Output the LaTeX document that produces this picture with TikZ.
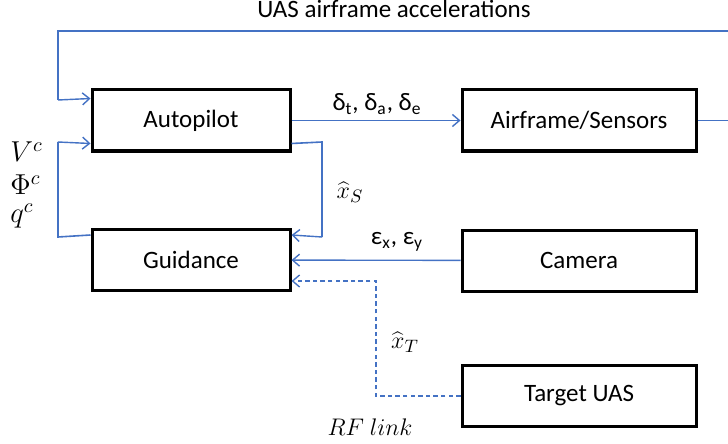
\documentclass[tikz,border=0pt]{standalone}
\usepackage{fontspec}
\setmainfont{Carlito}
\usetikzlibrary{calc}
\usetikzlibrary{arrows.meta}
\definecolor{linkblue}{RGB}{68,114,196}
\tikzset{
  block/.style = {draw=black, line width=1.5pt, minimum height=30.5pt, font=\fontsize{12.5}{15}\selectfont},
  sig/.style = {color=#1, line width=0.8pt},
  sigVec/.style = {color=#1, line width=0.7pt, -{Straight Barb[length=3.5pt,width=6pt]}},
  rfVec/.style = {color=#1, line width=0.7pt, dash pattern=on 2.2pt off 1.6pt, -{Straight Barb[length=3.5pt,width=6pt]}},
  lbl/.style = {font=\fontsize{12.5}{15}\selectfont, inner sep=0pt},
  cmd/.style = {font=\fontsize{14}{16}\selectfont, inner sep=0pt, anchor=west}
}

\begin{document}
\begin{tikzpicture}[x=0.5pt, y=-0.5pt]

    \useasboundingbox (0,0) rectangle (728,444);

    % Blocks
    \node[block, minimum width=99pt]  (auto) at (191,120.5) {Autopilot};
    \node[block, minimum width=117pt] (air)  at (579,120.5) {Airframe/Sensors};
    \node[block, minimum width=99pt]  (guid) at (191,260)   {Guidance};
    \node[block, minimum width=117pt] (cam)  at (579,260.5) {Camera};
    \node[block, minimum width=117pt] (tgt)  at (579,396)   {Target UAS};

    % Coordinates
    \coordinate (fbIn)  at (728,31);
    \coordinate (airOut) at (728,120.5);

    % Signals
    \draw[sig={linkblue}] (air.east) -- (airOut);
    \draw[sig={linkblue}] (fbIn) -- (58,31) -- (58,100);
    \draw[sigVec={linkblue}] (58,100) -- ($(auto.north west)+(0,10)$);
    \draw[sigVec={linkblue}] (auto) -- (air);
    \draw[sig={linkblue}] ($(guid.north west)+(0,7)$) -- (58,237) -- (58,142);
    \draw[sigVec={linkblue}] (58,142) -- ($(auto.south west)+(0,-9)$);
    \draw[sig={linkblue}] ($(auto.south east)+(0,-9)$) -- (322,142) -- (322,237);
    \draw[sigVec={linkblue}] (322,237) -- ($(guid.north east)+(0,7)$);
    \draw[sigVec={linkblue}] (cam) -- (guid);
    \draw[rfVec={linkblue}] (tgt.west) -- (376,396) |- ($(guid.south east)+(0,-11)$);

    % Labels
    \node[lbl, anchor=base] (accel) at (394,18) {UAS airframe accelerations};
    \node[lbl] (defl)  at (377,104) {δ\textsubscript{t}, δ\textsubscript{a}, δ\textsubscript{e}};
    \node[lbl] (eps)   at (397,242) {ε\textsubscript{x}, ε\textsubscript{y}};
    \node[lbl] (xs)    at (350,192) {$\widehat{x}_S$};
    \node[lbl] (xt)    at (405,342) {$\widehat{x}_T$};
    \node[lbl] (rf)    at (370,427) {$RF\ link$};
    \node[cmd] (vc)   at (10,152) {$V^c$};
    \node[cmd] (phic) at (10,185) {$\Phi^c$};
    \node[cmd] (qc)   at (10,216) {$q^c$};

\end{tikzpicture}
\end{document}
